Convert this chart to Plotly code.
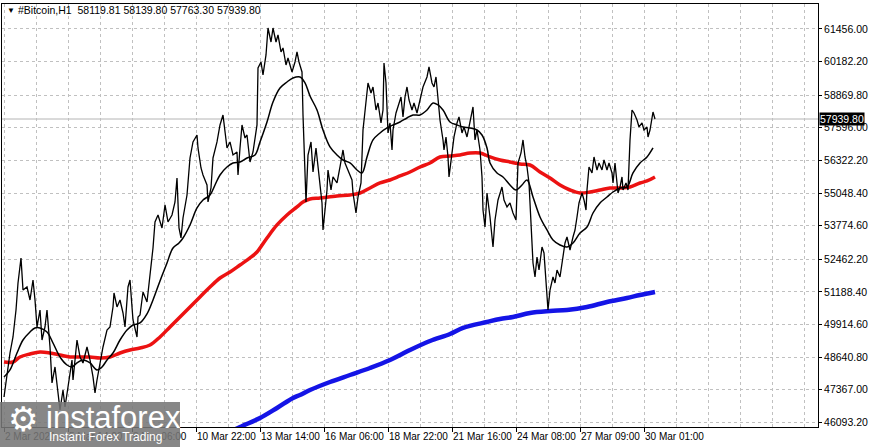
import plotly.graph_objects as go

# hourly bars, counted from the first bar on screen (2 Mar 2021 22:00)
price_bars = [
    0, 3, 6, 9, 12, 14, 17, 19, 23, 26, 29, 31, 33, 36, 38, 41, 43, 46, 48, 51,
    54, 56, 59, 61, 64, 68, 69, 73, 76, 79, 83, 86, 89, 91, 93, 96, 99, 103, 106, 109,
    110, 113, 116, 119, 121, 124, 126, 128, 129, 133, 134,
    136, 139, 143, 146, 149, 151, 154, 158, 161, 164, 168, 171, 173, 175, 177, 179, 183, 186, 189, 193,
    194, 197, 199, 203, 204, 207, 209, 213, 216, 219, 221, 223, 226, 229, 233, 234, 236, 238, 241, 243,
    246, 249, 253, 254, 257, 259, 262, 264, 267, 269, 272, 274, 277, 279, 282, 284, 288, 291, 293, 295,
    298, 299, 302, 304, 307, 309, 312,
    315, 318, 319, 321, 323, 324, 327, 329, 333, 336, 339, 341, 344, 348, 349, 352, 354, 357, 359, 361,
    364, 367, 369, 372, 374, 377, 379, 380, 382, 384, 386, 388, 389, 392, 394, 397, 399, 401, 403, 405,
    408, 410, 413, 416, 419, 423, 425, 428, 430, 432, 434, 436, 439, 440, 442, 444, 445, 448, 450, 453,
    455, 458, 460, 463, 465, 469, 471, 473, 476, 478, 479, 481, 483, 485,
    486, 489, 491, 494, 498, 500, 503, 506, 509, 512, 514, 517, 519, 521, 523, 525, 527, 529, 531, 533,
    535, 538, 540, 542, 544, 546, 549, 551, 553, 556, 559, 561, 563, 566, 569, 571, 573, 575, 578, 580,
    582, 583, 585, 588, 590, 593, 595, 598, 600, 603, 605, 608, 609, 611, 613, 614, 616, 618, 619, 622,
    624, 626, 628, 630, 633, 635, 638, 640, 643, 644, 646, 648, 649, 651,
]
price_close = [
    47082, 48020, 48801, 49426, 50480, 51535, 52512, 51261, 51379, 50871, 51652, 50871, 49817, 50480, 49308, 49817, 50480, 49035, 47629, 48254,
    47238, 46574, 47355, 46692, 47473, 48527, 47746, 49308, 48645, 48410, 49035, 48527, 47864, 47238, 47746, 48410, 49035, 49699, 49817, 50598,
    51144, 50598, 50871, 50363, 49817, 51379, 51652, 50598, 50090, 49426, 50207,
    50285, 51183, 50793, 51848, 52902, 53918, 54191, 53684, 54582, 53918, 54191, 54699, 55637, 53684, 53293, 54074, 54972, 56418, 57043, 57316,
    56809, 56027, 55754, 55363, 54699, 55246, 56418, 57043, 57707, 58097, 57316, 56809, 57043, 56535, 56652, 55754, 56809, 57707, 57199, 57316,
    56261, 56652, 57707, 59933, 60167, 59660, 60441, 61495, 60948, 61495, 60948, 61222, 60558, 60714, 60050, 60324, 59777, 60167, 60558, 60167,
    59777, 58097, 54699, 56535, 57043, 55871, 56809,
    55676, 54660, 53605, 54386, 55167, 55949, 55167, 55676, 55441, 56066, 56730, 56222, 55949, 55558, 55050, 54269, 54894, 55441, 57511, 58175,
    59347, 58956, 59191, 58292, 58566, 57785, 58292, 60128, 59347, 57394, 57785, 56730, 57511, 58175, 58410, 58800, 58019, 58800, 59191, 58683,
    58292, 58566, 58175, 58683, 59191, 59582, 59972, 59347, 59191, 59582, 58566, 57902, 57121, 56730, 57238, 56457, 55676, 56730, 57238, 57785,
    58019, 57394, 57629, 57238, 57629, 58410, 57121, 57511, 56730, 55676, 54386, 53723, 55050, 54504,
    54113, 52941, 53996, 54777, 55285, 54777, 54504, 54660, 54269, 53996, 56222, 56613, 57121, 56457, 56066, 55441, 53879, 52316, 51770, 52551,
    52043, 52941, 52707, 51535, 50480, 51261, 51770, 51535, 52043, 51770, 52551, 53097, 53332, 52824, 53332, 53605, 54113, 54660, 55050, 54777,
    54386, 55167, 56066, 55832, 56457, 55949, 56222, 55949, 56339, 55949, 56222, 55832, 55441, 56222, 55441, 55050, 55285, 55676, 55167, 55441,
    55167, 57121, 58292, 58175, 57902, 57629, 57785, 57511, 57629, 57238, 57511, 57902, 58214, 57939.8,
]

# fast moving average (thin black)
ma_fast_bars = [
    0, 6, 13, 19, 26, 31, 36, 43, 49, 56, 63, 68, 73, 79, 86, 93, 98, 103, 109, 116,
    123, 129, 136, 143, 149, 156, 163, 169, 175, 179, 186, 193, 199, 206, 211, 216, 223, 229, 236, 243,
    251, 256, 263, 269, 276, 283, 289, 296, 301, 306, 313, 319, 326, 333, 339, 346, 353, 358, 363, 369,
    376, 383, 389, 396, 403, 409, 416, 423, 429, 434, 439, 446, 453, 459, 466, 473, 478, 483, 486, 493,
    499, 506, 512, 518, 523, 529, 536, 543, 549, 556, 563, 569, 576, 583, 589, 596, 603, 609, 616, 623,
    629, 636, 643, 649,
]
ma_fast = [
    47864, 48137, 48801, 49308, 49621, 49778, 49778, 49621, 49191, 48645, 48332, 48254, 48410, 48527, 48410, 48137, 48254, 48527, 48801, 49308,
    49699, 49895, 49973, 50324, 50871, 51613, 52316, 52902, 53097, 53293, 53801, 54465, 54777, 54972, 55363, 55754, 56066, 56222, 56261, 56418,
    56535, 57043, 57824, 58605, 59152, 59386, 59543, 59582, 59347, 58839, 58292, 57511, 56848, 56535, 56339, 56222, 55949, 55832, 56457, 57121,
    57394, 57590, 57707, 57824, 57980, 58097, 58097, 58292, 58566, 58488, 58292, 57824, 57707, 57629, 57590, 57511, 57316, 56809, 56222, 55832,
    55676, 55363, 55167, 55363, 55558, 54894, 54113, 53605, 53214, 53019, 52941, 53097, 53488, 53723, 54269, 54660, 54894, 55089, 55246, 55285,
    55832, 56222, 56457, 56809,
]

# middle moving average (red)
ma_mid_bars = [
    0, 9, 16, 26, 36, 46, 56, 66, 76, 86, 96, 106, 116, 126, 136, 146, 156, 166, 176, 186,
    196, 206, 216, 226, 236, 246, 253, 263, 273, 283, 293, 299, 306, 316, 333, 346, 356, 366, 376, 386,
    396, 406, 416, 426, 436, 446, 456, 466, 476, 486, 496, 506, 516, 526, 536, 546, 556, 566, 576, 586,
    596, 606, 616, 626, 636, 643, 651,
]
ma_mid = [
    48449, 48449, 48645, 48762, 48840, 48801, 48723, 48645, 48645, 48645, 48606, 48645, 48801, 48918, 48996, 49113, 49426, 49817, 50207, 50598,
    50988, 51379, 51731, 51965, 52238, 52512, 52746, 53293, 53801, 54191, 54504, 54699, 54815, 54855, 54933, 54972, 55050, 55246, 55441, 55558,
    55715, 55871, 56066, 56222, 56457, 56496, 56535, 56613, 56613, 56457, 56339, 56261, 56183, 56144, 55871, 55637, 55363, 55167, 55050, 55089,
    55167, 55246, 55246, 55285, 55441, 55519, 55676,
]

# slow moving average (blue)
ma_slow_bars = [
    224, 236, 256, 273, 289, 296, 306, 326, 346, 366, 386, 406, 426, 446, 459, 483, 496, 509, 526, 546,
    563, 583, 603, 623, 636, 651,
]
ma_slow = [
    45676, 45911, 46262, 46653, 47043, 47160, 47355, 47668, 47941, 48215, 48527, 48918, 49269, 49543, 49778, 50012, 50129, 50207, 50363, 50441,
    50480, 50598, 50793, 50949, 51066, 51183,
]

date_ticks = [0, 64, 128, 192, 256, 320, 384, 448, 512, 576, 640]
date_labels = ['2 Mar 2021', '5 Mar 14:00', '8 Mar 06:00', '10 Mar 22:00', '13 Mar 14:00',
               '16 Mar 06:00', '18 Mar 22:00', '21 Mar 16:00', '24 Mar 08:00',
               '27 Mar 09:00', '30 Mar 01:00']
price_ticks = [46093.20, 47367.00, 48640.80, 49914.60, 51188.40, 52462.20, 53774.60,
               55048.40, 56322.20, 57596.00, 58869.80, 60182.20, 61456.00]
last_price = 57939.80
header = '#Bitcoin,H1  58119.81 58139.80 57763.30 57939.80'

W, H = 872, 447
L, R, T, B = 2, 54, 4, 20


def px(x):
    return (x - L) / (W - L - R)


def py(y):
    return (H - B - y) / (H - T - B)


fig = go.Figure()
fig.add_trace(go.Scatter(x=ma_slow_bars, y=ma_slow, mode='lines',
                         line=dict(color='#1414e6', width=4.5, shape='spline'),
                         hoverinfo='skip'))
fig.add_trace(go.Scatter(x=ma_mid_bars, y=ma_mid, mode='lines',
                         line=dict(color='#ec1212', width=3.5, shape='spline'),
                         hoverinfo='skip'))
fig.add_trace(go.Scatter(x=price_bars, y=price_close, mode='lines',
                         line=dict(color='black', width=1.3),
                         hoverinfo='skip'))
fig.add_trace(go.Scatter(x=ma_fast_bars, y=ma_fast, mode='lines',
                         line=dict(color='black', width=1.5, shape='spline'),
                         hoverinfo='skip'))

# current price line
fig.add_shape(type='line', xref='paper', yref='y', x0=0, x1=1, y0=last_price, y1=last_price,
              line=dict(color='#b4b4b4', width=1), layer='below')

grid = dict(showgrid=True, gridcolor='#c0c0c0', griddash='3px,3px', gridwidth=1)

fig.update_layout(
    width=W, height=H,
    margin=dict(l=L, r=R, t=T, b=B),
    paper_bgcolor='white', plot_bgcolor='white',
    showlegend=False,
    font=dict(family='Liberation Sans', size=10, color='black'),
    xaxis=dict(range=[-2, 814], tickmode='array', tickvals=date_ticks, ticktext=date_labels,
               ticks='outside', ticklen=4, tickcolor='black', tickangle=0,
               ticklabelposition='outside right', tickfont=dict(size=10),
               showline=True, linecolor='black', mirror=True, zeroline=False,
               minor=dict(dtick=32, tick0=0, ticklen=0, **grid), **grid),
    yaxis=dict(range=[45910, 62432], side='right', tickmode='array', tickvals=price_ticks,
               ticktext=['%.2f' % v for v in price_ticks],
               ticks='outside', ticklen=3, tickcolor='black', tickfont=dict(size=10.5),
               showline=True, linecolor='black', mirror=True, zeroline=False, **grid),
)

# header line
fig.add_annotation(x=px(5), y=py(10), xref='paper', yref='paper', xanchor='left', yanchor='middle',
                   text='▼', showarrow=False, font=dict(size=8, color='black'))
fig.add_annotation(x=px(16), y=py(10), xref='paper', yref='paper', xanchor='left', yanchor='middle',
                   text=header, showarrow=False, font=dict(size=10.5, color='black'))

# last price label
fig.add_annotation(x=1, y=last_price, xref='paper', yref='y', xanchor='left', yanchor='middle',
                   xshift=1, text='57939.80', showarrow=False, bgcolor='black',
                   font=dict(size=10.5, color='white'), borderpad=0)

# watermark
fig.add_shape(type='rect', xref='paper', yref='paper', x0=px(0), x1=px(180), y0=py(447), y1=py(402),
              fillcolor='rgba(118,118,118,0.88)', line=dict(width=0), layer='above')
fig.add_annotation(x=px(6), y=py(419), xref='paper', yref='paper', xanchor='left', yanchor='middle',
                   text='⚙', showarrow=False, font=dict(family='DejaVu Sans', size=34, color='white'))
fig.add_annotation(x=px(44), y=py(417), xref='paper', yref='paper', xanchor='left', yanchor='middle',
                   text='instaforex', showarrow=False, font=dict(family='Liberation Sans', size=31, color='white'))
fig.add_annotation(x=px(47), y=py(437), xref='paper', yref='paper', xanchor='left', yanchor='middle',
                   text='Instant Forex Trading', showarrow=False, font=dict(family='Liberation Sans', size=12, color='white'))

fig.write_html('out.html', config={'displayModeBar': False},
               post_script="document.body.style.margin='0';")
